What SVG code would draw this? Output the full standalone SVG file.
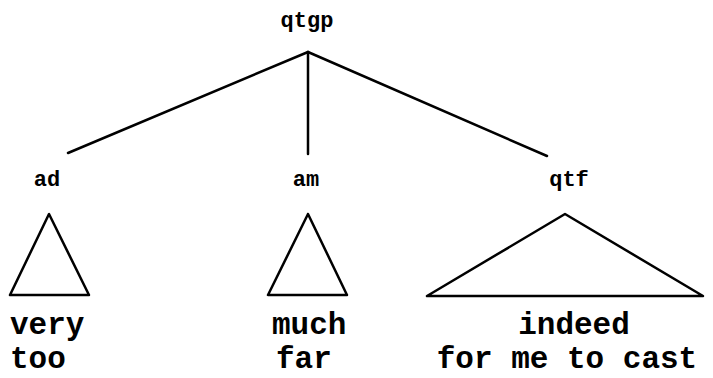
<svg xmlns="http://www.w3.org/2000/svg" width="713" height="378" viewBox="0 0 713 378">
<style>
.lbl{font-family:"Liberation Mono","Courier New",monospace;font-weight:bold;font-size:22px;fill:#000;text-anchor:middle}
.leaf{font-family:"Liberation Mono","Courier New",monospace;font-weight:bold;font-size:31px;fill:#000}
.ln{stroke:#000;stroke-width:2.5;fill:none;stroke-linecap:round}
.tri{stroke:#000;stroke-width:2.5;fill:#fff;stroke-linejoin:round}
</style>
<rect width="713" height="378" fill="#fff"/>
<g id="connectors">
<line class="ln" x1="308" y1="52" x2="68" y2="153"/>
<line class="ln" x1="308" y1="52" x2="308" y2="154"/>
<line class="ln" x1="308" y1="52" x2="547" y2="156"/>
</g>
<g id="qtgp"><text class="lbl" x="307" y="27">qtgp</text></g>
<g id="ad">
<text class="lbl" x="47" y="186">ad</text>
<polygon class="tri" points="49,214 10,295 89,295"/>
<text class="leaf" x="10" y="334">very</text>
<text class="leaf" x="10" y="368">too</text>
</g>
<g id="am">
<text class="lbl" x="306" y="186">am</text>
<polygon class="tri" points="308,214 268,295 347,295"/>
<text class="leaf" x="272" y="334">much</text>
<text class="leaf" x="276" y="368">far</text>
</g>
<g id="qtf">
<text class="lbl" x="569" y="186">qtf</text>
<polygon class="tri" points="565,214 427,296 703,296"/>
<text class="leaf" x="574" y="334" text-anchor="middle">indeed</text>
<text class="leaf" x="567" y="368" text-anchor="middle">for me to cast</text>
</g>
</svg>
